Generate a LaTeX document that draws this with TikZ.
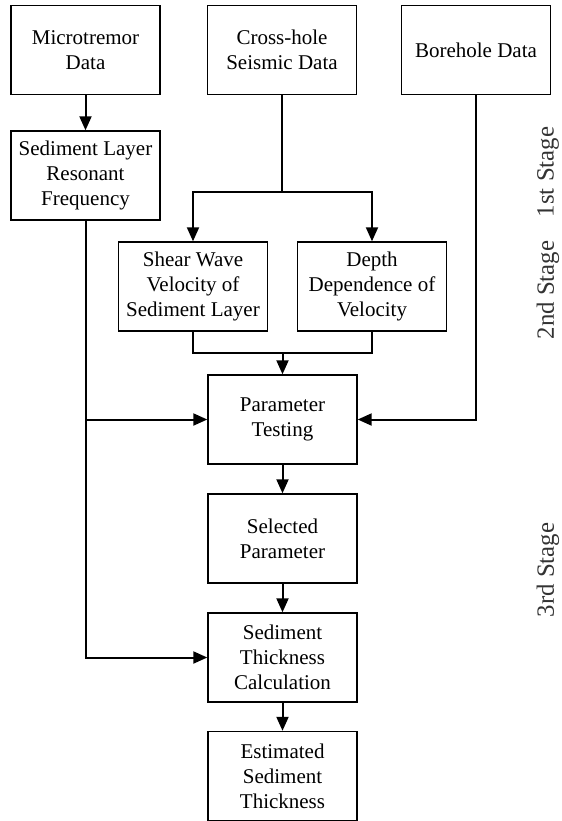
\documentclass[tikz,border=0pt]{standalone}
\usepackage{fontspec}
\setmainfont{Liberation Serif}
\usetikzlibrary{arrows.meta}

\begin{document}
\begin{tikzpicture}[x=0.5pt,y=-0.5pt,
box/.style={draw,line width=0.7pt,minimum width=74.5pt,minimum height=44.5pt,
	inner sep=1pt,align=center,font=\fontsize{10.5}{12.5}\selectfont},
wire/.style={line width=1pt},
flow/.style={line width=1pt,-{Triangle[length=7pt,width=6pt]}},
stage/.style={rotate=90,font=\fontsize{12.4}{14}\selectfont,text=black!80}]
	\useasboundingbox (0,0) rectangle (562,821);
	\def\cx{282.5}
	\node[box] at (85.5,50) (micro) {Microtremor\\Data};
	\node[box] at (282,50) (cross) {Cross-hole\\Seismic Data};
	\node[box] at (476,50) (bore) {Borehole Data};
	\node[box] at (85.5,175.5) (resfreq) {Sediment Layer\\Resonant\\Frequency};
	\node[box] at (193,286.5) (shear) {Shear Wave\\Velocity of\\Sediment Layer};
	\node[box] at (372,286.5) (depth) {Depth\\Dependence of\\Velocity};
	\node[box] at (\cx,419.5) (param) {Parameter\\Testing};
	\node[box] at (\cx,538.5) (select) {Selected\\Parameter};
	\node[box] at (\cx,657.5) (calc) {Sediment\\Thickness\\Calculation};
	\node[box] at (\cx,776) (estim) {Estimated\\Sediment\\Thickness};

	\coordinate (split) at (282,192);
	\coordinate (merge) at (\cx,353);

	%stage 1
	\draw[flow] (micro) -- (resfreq);
	\draw[wire] (cross.south) -- (split);
	\draw[flow] (split) -| (shear.north);
	\draw[flow] (split) -| (depth.north);
	%stage 2
	\draw[wire] (shear.south) |- (merge) -| (depth.south);
	\draw[flow] (merge) -- (param.north);
	\draw[flow] (resfreq.south |- param.west) -- (param.west);
	\draw[flow] (bore.south) |- (param.east);
	%stage 3
	\draw[flow] (resfreq.south) |- (calc.west);
	\draw[flow] (param) -- (select);
	\draw[flow] (select) -- (calc);
	\draw[flow] (calc) -- (estim);

	\node[stage] at (548,172) (s1) {1st Stage};
	\node[stage] at (548,290) (s2) {2nd Stage};
	\node[stage] at (548,570) (s3) {3rd Stage};
\end{tikzpicture}
\end{document}
